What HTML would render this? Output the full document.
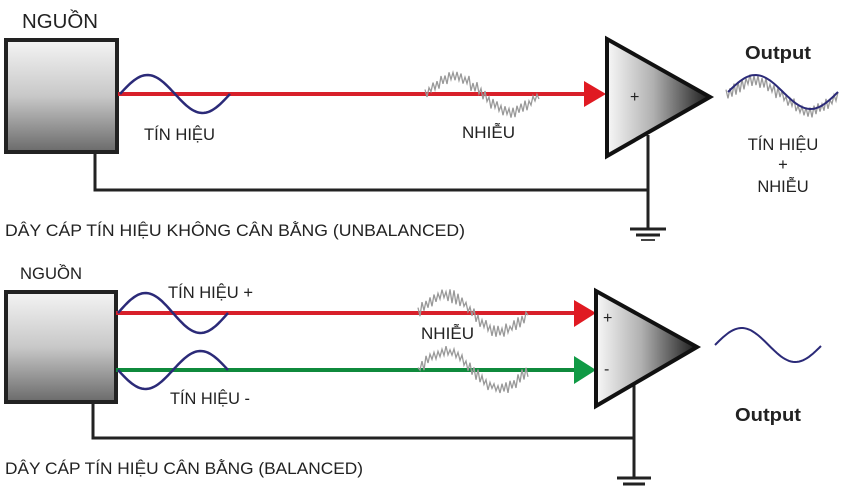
<!DOCTYPE html>
<html><head><meta charset="utf-8"><style>
html,body{margin:0;padding:0;background:#fff;width:842px;height:489px;overflow:hidden}
text{font-family:"Liberation Sans",sans-serif;fill:#222}
</style></head><body>
<svg id="s" width="842" height="489" viewBox="0 0 842 489" xmlns="http://www.w3.org/2000/svg">
<defs>
<linearGradient id="bx" x1="0" y1="0" x2="0" y2="1"><stop offset="0" stop-color="#f4f4f4"/><stop offset="0.5" stop-color="#c8c8c8"/><stop offset="1" stop-color="#6a6a6a"/></linearGradient>
<linearGradient id="tr" x1="0" y1="0" x2="1" y2="0"><stop offset="0" stop-color="#f8f8f8"/><stop offset="0.45" stop-color="#b0b0b0"/><stop offset="1" stop-color="#1a1a1a"/></linearGradient>
</defs>
<!-- TOP -->
<text x="22" y="28" font-size="20" textLength="76" lengthAdjust="spacingAndGlyphs">NGUỒN</text>
<rect x="6" y="40" width="111" height="112" fill="url(#bx)" stroke="#222" stroke-width="4"/>
<polyline points="95,152 95,190 648,190" fill="none" stroke="#222" stroke-width="3"/>
<line x1="648" y1="135" x2="648" y2="229" stroke="#222" stroke-width="3"/>
<line x1="630" y1="229" x2="666" y2="229" stroke="#222" stroke-width="3"/>
<line x1="636" y1="235" x2="660" y2="235" stroke="#222" stroke-width="3"/>
<line x1="641" y1="240" x2="655" y2="240" stroke="#444" stroke-width="2"/>
<line x1="118" y1="94" x2="588" y2="94" stroke="#d8202a" stroke-width="4"/>
<polygon points="584,81 606,94 584,107" fill="#e01a22"/>
<path id="w1" fill="none" stroke="#2b2a78" stroke-width="2.5"/>
<text x="144" y="140" font-size="16.5" textLength="71" lengthAdjust="spacingAndGlyphs">TÍN HIỆU</text>
<g id="n1"></g>
<text x="462" y="138" font-size="16.5" textLength="53" lengthAdjust="spacingAndGlyphs">NHIỄU</text>
<polygon points="607,39 607,156 710,97" fill="url(#tr)" stroke="#111" stroke-width="4" stroke-linejoin="miter"/>
<text x="630" y="102" font-size="16">+</text>
<text x="745" y="59" font-size="18" font-weight="bold" textLength="66" lengthAdjust="spacingAndGlyphs">Output</text>
<g id="n4"></g>
<path id="w4" fill="none" stroke="#2b2a78" stroke-width="2"/>
<text x="783" y="150" font-size="16.5" text-anchor="middle">TÍN HIỆU</text>
<text x="783" y="170" font-size="16.5" text-anchor="middle">+</text>
<text x="783" y="192" font-size="16.5" text-anchor="middle">NHIỄU</text>
<text x="5" y="236" font-size="17" textLength="460" lengthAdjust="spacingAndGlyphs">DÂY CÁP TÍN HIỆU KHÔNG CÂN BẰNG (UNBALANCED)</text>
<!-- BOTTOM -->
<text x="20" y="279" font-size="16.5" textLength="62" lengthAdjust="spacingAndGlyphs">NGUỒN</text>
<rect x="6" y="292" width="110" height="110" fill="url(#bx)" stroke="#222" stroke-width="4"/>
<polyline points="93,402 93,438 634,438" fill="none" stroke="#222" stroke-width="3"/>
<line x1="634" y1="385" x2="634" y2="478" stroke="#222" stroke-width="3"/>
<line x1="617" y1="478" x2="651" y2="478" stroke="#222" stroke-width="3"/>
<line x1="623" y1="484" x2="645" y2="484" stroke="#222" stroke-width="3"/>
<line x1="116" y1="313" x2="578" y2="313" stroke="#d8202a" stroke-width="4"/>
<polygon points="574,300 596,313 574,327" fill="#e01a22"/>
<line x1="116" y1="370" x2="578" y2="370" stroke="#0f8a3c" stroke-width="4"/>
<polygon points="574,356 596,370 574,384" fill="#109a45"/>
<path id="w2" fill="none" stroke="#2b2a78" stroke-width="2.5"/>
<path id="w3" fill="none" stroke="#2b2a78" stroke-width="2.5"/>
<text x="168" y="298" font-size="16.5" textLength="85" lengthAdjust="spacingAndGlyphs">TÍN HIỆU +</text>
<text x="170" y="404" font-size="16.5" textLength="80" lengthAdjust="spacingAndGlyphs">TÍN HIỆU -</text>
<g id="n2"></g><g id="n3"></g>
<text x="421" y="339" font-size="16.5" textLength="53" lengthAdjust="spacingAndGlyphs">NHIỄU</text>
<polygon points="596,291 596,406 697,347" fill="url(#tr)" stroke="#111" stroke-width="4"/>
<text x="603" y="323" font-size="16">+</text>
<text x="604" y="374" font-size="16">-</text>
<path id="w5" fill="none" stroke="#2b2a78" stroke-width="2"/>
<text x="735" y="421" font-size="18" font-weight="bold" textLength="66" lengthAdjust="spacingAndGlyphs">Output</text>
<text x="5" y="474" font-size="17" textLength="358" lengthAdjust="spacingAndGlyphs">DÂY CÁP TÍN HIỆU CÂN BẰNG (BALANCED)</text>
</svg>
<script>
function sine(id,x0,x1,cy,amp,sign,ph){var d="";for(var x=x0;x<=x1;x+=2){var t=(x-x0)/(x1-x0)*2*Math.PI+(ph||0);var y=cy-sign*amp*Math.sin(t);d+=(d?"L":"M")+x+","+y.toFixed(1);}document.getElementById(id).setAttribute("d",d);}
sine("w1",120,230,94,19,1);
sine("w2",118,228,313,20,1);
sine("w3",118,228,370,19,-1);
sine("w4",728,838,92,17,1);
sine("w5",715,822,345,17,1);
var seed=7;function r(){seed=(seed*9301+49297)%233280;return seed/233280;}
function noise(gid,x0,x1,cy,amp,ph){var p="";var k=0;for(var x=x0;x<=x1;x+=2){var t=(x-x0)/(x1-x0)*2*Math.PI+(ph||0);var y=cy-amp*Math.sin(t)+(k%2?1:-1)*(2+r()*5);p+=x.toFixed(1)+","+y.toFixed(1)+" ";k++;}
var g=document.getElementById(gid);g.innerHTML='<polyline points="'+p+'" fill="none" stroke="#999" stroke-width="1.3"/>';}
noise("n1",425,540,94,17);
noise("n2",418,528,313,18);
noise("n3",418,528,370,18);
noise("n4",726,838,96,15);
</script>
</body></html>
